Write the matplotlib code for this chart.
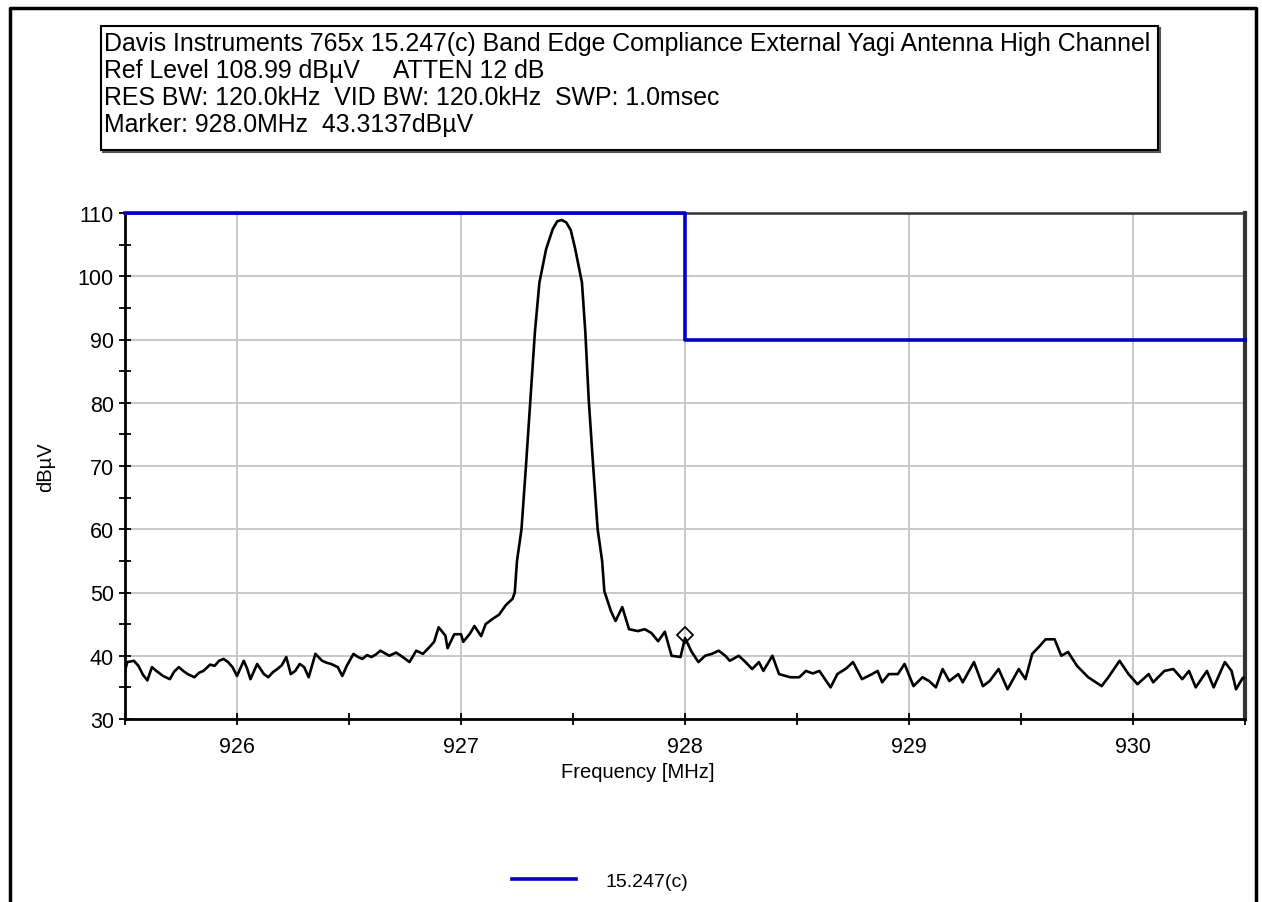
import matplotlib.pyplot as plt
from matplotlib.lines import Line2D
from matplotlib.patches import Rectangle
from matplotlib.ticker import MultipleLocator

plt.rcParams['font.family'] = ['Liberation Sans', 'DejaVu Sans']

# header lines
header = [
    'Davis Instruments 765x 15.247(c) Band Edge Compliance External Yagi Antenna High Channel',
    'Ref Level 108.99 dB\u00b5V     ATTEN 12 dB',
    'RES BW: 120.0kHz  VID BW: 120.0kHz  SWP: 1.0msec',
    'Marker: 928.0MHz  43.3137dB\u00b5V',
]

freq = [925.50, 925.51, 925.54, 925.56, 925.58, 925.60, 925.62, 925.64, 925.67, 925.70,
        925.72, 925.74, 925.76, 925.78, 925.81, 925.83, 925.85, 925.88, 925.90, 925.92,
        925.94, 925.96, 925.98, 926.00, 926.015, 926.03, 926.045, 926.06, 926.075, 926.09,
        926.12, 926.14, 926.16, 926.18, 926.20, 926.22, 926.24, 926.26, 926.28, 926.30,
        926.32, 926.35, 926.38, 926.40, 926.42, 926.45, 926.47, 926.49, 926.52, 926.54,
        926.56, 926.58, 926.60, 926.62, 926.64, 926.66, 926.68, 926.71, 926.74, 926.77,
        926.80, 926.83, 926.86, 926.88, 926.90, 926.93, 926.94, 926.97, 927.00, 927.01,
        927.04, 927.06, 927.09, 927.11, 927.14, 927.17, 927.20, 927.23, 927.24, 927.25,
        927.27, 927.29, 927.31, 927.33, 927.35, 927.38, 927.41, 927.43, 927.45, 927.47,
        927.49, 927.51, 927.54, 927.555, 927.57, 927.59, 927.61, 927.63, 927.64, 927.67,
        927.69, 927.72, 927.75, 927.79, 927.82, 927.85, 927.88, 927.91, 927.94, 927.98,
        928.00, 928.03, 928.06, 928.09, 928.12, 928.15, 928.18, 928.20, 928.24, 928.27,
        928.30, 928.33, 928.35, 928.39, 928.42, 928.47, 928.51, 928.54, 928.57, 928.60,
        928.65, 928.68, 928.72, 928.75, 928.79, 928.83, 928.86, 928.88, 928.91, 928.95,
        928.98, 929.02, 929.06, 929.09, 929.12, 929.15, 929.18, 929.22, 929.24, 929.29,
        929.33, 929.36, 929.40, 929.44, 929.49, 929.52, 929.55, 929.58, 929.61, 929.65,
        929.68, 929.71, 929.75, 929.80, 929.86, 929.89, 929.94, 929.98, 930.02, 930.07,
        930.09, 930.14, 930.18, 930.22, 930.25, 930.28, 930.33, 930.36, 930.41, 930.44,
        930.46, 930.49, 930.50]
level = [37.6, 39.0, 39.2, 38.4, 37.0, 36.1, 38.2, 37.6, 36.8, 36.3,
         37.5, 38.2, 37.6, 37.1, 36.6, 37.3, 37.6, 38.6, 38.4, 39.2,
         39.5, 39.0, 38.2, 36.8, 38.0, 39.2, 38.0, 36.3, 37.5, 38.7,
         37.1, 36.6, 37.4, 37.9, 38.5, 39.8, 37.1, 37.6, 38.7, 38.2,
         36.6, 40.3, 39.2, 38.9, 38.7, 38.2, 36.8, 38.4, 40.3, 39.8,
         39.5, 40.1, 39.8, 40.2, 40.8, 40.4, 40.0, 40.5, 39.8, 39.0,
         40.8, 40.3, 41.4, 42.2, 44.5, 43.2, 41.2, 43.4, 43.4, 42.2,
         43.5, 44.7, 43.1, 45.0, 45.8, 46.5, 48.0, 49.0, 50.0, 55.0,
         60.0, 70.0, 80.6, 91.2, 99.0, 104.3, 107.5, 108.7, 108.9, 108.5,
         107.3, 104.3, 99.0, 91.2, 80.6, 70.0, 60.0, 55.0, 50.2, 47.0,
         45.5, 47.7, 44.2, 43.9, 44.2, 43.6, 42.3, 43.8, 40.0, 39.8,
         42.8, 40.6, 39.0, 40.0, 40.3, 40.8, 40.0, 39.2, 40.0, 39.0,
         37.9, 39.0, 37.6, 40.0, 37.1, 36.6, 36.6, 37.6, 37.2, 37.6,
         35.0, 37.1, 38.0, 39.0, 36.3, 37.0, 37.6, 35.8, 37.1, 37.1,
         38.7, 35.2, 36.6, 36.0, 35.0, 37.9, 36.0, 37.1, 35.8, 39.0,
         35.2, 36.0, 37.9, 34.7, 37.9, 36.3, 40.3, 41.4, 42.6, 42.6,
         40.0, 40.6, 38.4, 36.6, 35.2, 36.6, 39.2, 37.1, 35.5, 37.1,
         35.8, 37.6, 37.9, 36.3, 37.6, 35.0, 37.6, 35.0, 39.0, 37.6,
         34.7, 36.5, 36.5]

# 15.247(c) limit line
limit_freq = [925.5, 928.0, 928.0, 930.5]
limit_level = [110, 110, 90, 90]

marker_freq = 928.0
marker_level = 43.3137

fig = plt.figure(figsize=(12.62, 9.03), dpi=100)
W, H = 1262, 903

# outer frame (left, top, right edges)
fig.add_artist(Line2D([10 / W, 10 / W, 1256 / W, 1256 / W],
                      [0, 1 - 9 / H, 1 - 9 / H, 0],
                      color='black', lw=2.5, transform=fig.transFigure))

# header box
fig.add_artist(Rectangle((101 / W, 1 - 151 / H), 1057 / W, 124 / H,
                         fill=False, ec='black', lw=1.5, transform=fig.transFigure))
fig.add_artist(Line2D([103 / W, 1159 / W], [1 - 152.5 / H, 1 - 152.5 / H],
                      color='#555555', lw=1.5, transform=fig.transFigure))
fig.add_artist(Line2D([1159.5 / W, 1159.5 / W], [1 - 152.5 / H, 1 - 29 / H],
                      color='#555555', lw=1.5, transform=fig.transFigure))
for i, line in enumerate(header):
    fig.text(104 / W, 1 - (44 + 27 * i) / H, line, fontsize=17.9,
             va='center', ha='left')

ax = fig.add_axes([125 / W, 1 - 720 / H, 1120 / W, 506 / H])
ax.plot(freq, level, color='black', lw=1.9, zorder=3)
ax.plot(limit_freq, limit_level, color='#0000c8', lw=2.6, zorder=4,
        clip_on=False, label='15.247(c)')
ax.plot([marker_freq], [marker_level], marker='D', ms=8, mfc='none',
        mec='black', mew=1.3, zorder=5)

ax.set_xlim(925.5, 930.5)
ax.set_ylim(30, 110)
ax.xaxis.set_major_locator(MultipleLocator(1))
ax.xaxis.set_minor_locator(MultipleLocator(0.5))
ax.yaxis.set_major_locator(MultipleLocator(10))
ax.yaxis.set_minor_locator(MultipleLocator(5))
ax.grid(True, which='major', color='#c8c8c8', lw=1.4)
ax.set_axisbelow(True)
ax.tick_params(which='both', direction='inout', length=9, width=1.3,
               labelsize=15.5, colors='black')
ax.tick_params(axis='x', pad=8)

for side in ['left', 'bottom']:
    ax.spines[side].set_linewidth(2)
    ax.spines[side].set_color('black')
ax.spines['right'].set_linewidth(3)
ax.spines['right'].set_color('#333333')
ax.spines['top'].set_linewidth(1.8)
ax.spines['top'].set_color('#333333')

ax.set_xlabel('Frequency [MHz]', fontsize=14.5)
ax.xaxis.set_label_coords((638 - 125) / 1120, -(763 - 720) / 506)
ax.set_ylabel('dB\u00b5V', fontsize=14.5)
ax.yaxis.set_label_coords(-(125 - 55) / 1120, 0.5)

fig.legend(handles=[Line2D([0], [0], color='#0000c8', lw=2.6)], labels=['15.247(c)'],
           loc='center', bbox_to_anchor=(600 / W, 1 - 882 / H), frameon=False,
           fontsize=14, handlelength=3.3, handletextpad=1.5)

fig.savefig('out.png', dpi=100)
